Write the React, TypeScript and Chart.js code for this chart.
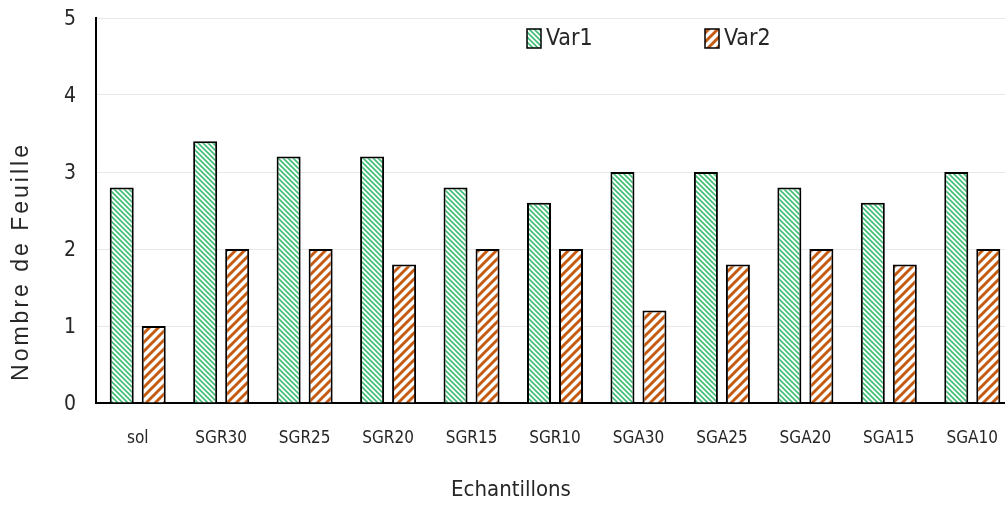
import React, { useEffect, useRef } from "react";
import { Chart, registerables } from "chart.js";

Chart.register(...registerables);

// Sample names along the x axis
const categories = ["sol", "SGR30", "SGR25", "SGR20", "SGR15", "SGR10", "SGA30", "SGA25", "SGA20", "SGA15", "SGA10"];
// Leaf counts per sample
const var1 = [2.8, 3.4, 3.2, 3.2, 2.8, 2.6, 3.0, 3.0, 2.8, 2.6, 3.0];
const var2 = [1.0, 2.0, 2.0, 1.8, 2.0, 2.0, 1.2, 1.8, 2.0, 1.8, 2.0];
const seriesNames = ["Var1", "Var2"];
const yTicks = [0, 1, 2, 3, 4, 5];

const xTitle = "Echantillons";
const yTitle = "Nombre de Feuille";

const NARROW = "'Liberation Sans Narrow', 'DejaVu Sans Condensed', 'Liberation Sans', sans-serif";
const TEXT = "#262626";

// Diagonal hatch fills: fine green "\" stripes and bold orange "/" stripes
function makeHatch(kind: "green" | "orange"): CanvasPattern | string {
  const s = kind === "green" ? 5 : 9;
  const c = document.createElement("canvas");
  c.width = s;
  c.height = s;
  const g = c.getContext("2d");
  if (!g) return kind === "green" ? "#58c985" : "#c55a11";
  g.fillStyle = "#ffffff";
  g.fillRect(0, 0, s, s);
  g.strokeStyle = kind === "green" ? "#45c079" : "#c55a11";
  g.lineWidth = kind === "green" ? 1.7 : 2.9;
  g.beginPath();
  for (let k = -1; k <= 1; k++) {
    if (kind === "green") {
      g.moveTo(-s, -s + k * s);
      g.lineTo(2 * s, 2 * s + k * s);
    } else {
      g.moveTo(-s, 2 * s + k * s);
      g.lineTo(2 * s, -s + k * s);
    }
  }
  g.stroke();
  const p = g.createPattern(c, "repeat");
  return p || g.strokeStyle;
}

// Legend drawn inside the plot area, one entry per dataset
const boxLegend = {
  id: "boxLegend",
  afterDraw(chart: any, _args: any, opts: any) {
    const ctx = chart.ctx as CanvasRenderingContext2D;
    chart.data.datasets.forEach((ds: any, i: number) => {
      const it = opts.items[i];
      ctx.save();
      ctx.fillStyle = ds.backgroundColor;
      ctx.fillRect(it.x, opts.y, opts.boxW, opts.boxH);
      ctx.lineWidth = 1.5;
      ctx.strokeStyle = "#000";
      ctx.strokeRect(it.x, opts.y, opts.boxW, opts.boxH);
      ctx.fillStyle = TEXT;
      ctx.font = `23px ${NARROW}`;
      ctx.textBaseline = "middle";
      ctx.textAlign = "left";
      ctx.fillText(ds.label, it.x + opts.boxW + 5, opts.y + opts.boxH / 2 + 1);
      ctx.restore();
    });
  },
};

// Axis titles: rotated letter-spaced y title, and x title below the labels
const axisTitles = {
  id: "axisTitles",
  afterDraw(chart: any, _args: any, opts: any) {
    const ctx = chart.ctx as any;
    ctx.save();
    ctx.fillStyle = TEXT;
    ctx.textAlign = "center";
    ctx.textBaseline = "middle";
    ctx.font = `22px ${NARROW}`;
    ctx.fillText(opts.x.text, opts.x.cx, opts.x.cy);
    ctx.translate(opts.y.cx, opts.y.cy);
    ctx.rotate(-Math.PI / 2);
    ctx.font = "23px 'Liberation Sans', Arial, sans-serif";
    if ("letterSpacing" in ctx) ctx.letterSpacing = "3px";
    ctx.fillText(opts.y.text, 1.5, 0);
    ctx.restore();
  },
};

export default function App() {
  const ref = useRef<HTMLCanvasElement | null>(null);

  useEffect(() => {
    document.body.style.margin = "0";
    document.body.style.overflow = "hidden";
    const canvas = ref.current;
    if (!canvas) return;
    const chart = new Chart(canvas, {
      type: "bar",
      data: {
        labels: categories,
        datasets: [
          {
            label: seriesNames[0],
            data: var1,
            backgroundColor: makeHatch("green") as any,
            borderColor: "#000",
            borderWidth: 2,
            borderSkipped: "bottom",
          },
          {
            label: seriesNames[1],
            data: var2,
            backgroundColor: makeHatch("orange") as any,
            borderColor: "#000",
            borderWidth: 2,
            borderSkipped: "bottom",
          },
        ],
      },
      options: {
        responsive: false,
        animation: false,
        devicePixelRatio: 1,
        datasets: { bar: { categoryPercentage: 0.767, barPercentage: 0.75 } },
        layout: { padding: { top: 18, left: 0, right: 0, bottom: 0 } },
        plugins: {
          legend: { display: false },
          tooltip: { enabled: false },
          boxLegend: {
            y: 29,
            boxW: 14,
            boxH: 19,
            items: [{ x: 527 }, { x: 705 }],
          },
          axisTitles: {
            x: { text: xTitle, cx: 511, cy: 490 },
            y: { text: yTitle, cx: 22, cy: 263 },
          },
        } as any,
        scales: {
          x: {
            grid: { display: false, drawTicks: false },
            border: { display: true, color: "#000", width: 2 },
            ticks: { color: TEXT, font: { family: NARROW, size: 17 }, padding: 25, maxRotation: 0 },
            afterFit(scale: any) {
              scale.height = 105;
              scale.paddingLeft = 0;
              scale.paddingRight = 0;
            },
          },
          y: {
            min: yTicks[0],
            max: yTicks[yTicks.length - 1],
            ticks: { stepSize: 1, color: TEXT, font: { family: NARROW, size: 21 }, padding: 20, labelOffset: 2 },
            grid: { color: "#e8e8e8", lineWidth: 1, drawTicks: false },
            border: { display: true, color: "#000", width: 2 },
            afterFit(scale: any) {
              scale.width = 96;
              scale.paddingTop = 0;
              scale.paddingBottom = 0;
            },
          },
        },
      },
      plugins: [boxLegend, axisTitles],
    });
    return () => chart.destroy();
  }, []);

  return (
    <div style={{ width: 1005, height: 508, overflow: "hidden", background: "#fff" }}>
      <canvas ref={ref} width={1014} height={508} style={{ display: "block" }} />
    </div>
  );
}
